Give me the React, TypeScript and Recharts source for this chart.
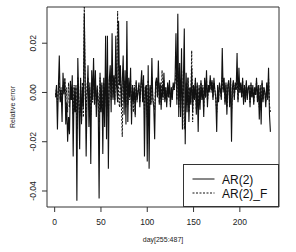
import { LineChart, Line, XAxis, YAxis, ReferenceArea, Legend, Label } from "recharts"

// relative error per day, days 1..233 (day[255:487])
const ar2 = [
  -0.002, 0.003, -0.015, 0.002, 0.015, -0.004, 0.001, -0.012, 0.008, 0.0,
  0.005, -0.013, -0.004, -0.02, -0.01, -0.017, 0.004, -0.003, 0.007, -0.026,
  0.002, -0.008, 0.003, -0.044, 0.014, -0.003, -0.023, 0.006, -0.012, 0.002,
  -0.006, 0.032, 0.004, -0.026, -0.002, 0.011, -0.014, 0.004, -0.029, 0.009,
  -0.003, 0.014, -0.005, 0.009, -0.01, 0.002, -0.004, -0.043, 0.008, -0.008,
  0.004, -0.025, 0.006, -0.014, 0.023, -0.019, 0.023, -0.031, 0.005, 0.011,
  -0.008, 0.024, -0.003, 0.007, -0.005, 0.023, 0.002, -0.004, 0.029, 0.003,
  0.011, -0.006, 0.004, 0.015, -0.009, 0.009, -0.013, 0.029, -0.012, 0.006,
  -0.002, 0.01, -0.013, 0.003, -0.004, 0.002, -0.009, 0.005, -0.003, 0.0,
  0.004, -0.006, 0.003, 0.009, -0.004, 0.007, -0.026, 0.002, 0.003, -0.028,
  0.011, -0.031, 0.003, -0.005, 0.014, -0.003, -0.006, -0.019, 0.004, 0.006,
  -0.002, 0.013, -0.005, 0.004, -0.007, 0.003, -0.002, 0.008, -0.004, 0.002,
  -0.006, 0.004, -0.002, 0.005, -0.006, 0.002, -0.003, 0.004, 0.001, 0.005,
  0.024, -0.005, 0.032, -0.01, 0.012, -0.01, 0.018, -0.015, 0.004, 0.026,
  -0.021, 0.008, -0.008, 0.006, -0.012, 0.002, -0.005, 0.01, -0.008, 0.003,
  -0.003, 0.006, -0.009, 0.004, -0.016, 0.003, -0.007, 0.005, -0.003, 0.002,
  -0.01, 0.006, -0.002, 0.009, -0.006, 0.003, 0.0, 0.007, 0.001, 0.005,
  -0.003, 0.006, 0.001, -0.002, -0.016, 0.003, -0.004, 0.004, 0.001, -0.003,
  0.018, 0.0, 0.006, -0.005, 0.004, -0.009, 0.003, 0.005, -0.006, 0.006,
  -0.02, 0.002, 0.005, -0.003, 0.004, 0.001, 0.016, -0.004, 0.01, 0.0,
  0.004, -0.002, 0.006, -0.005, 0.003, -0.004, 0.005, -0.003, 0.002, 0.003,
  -0.006, 0.004, -0.002, 0.003, -0.005, 0.002, -0.001, 0.006, -0.004, 0.003,
  -0.011, 0.003, -0.013, 0.005, -0.004, 0.002, 0.0, -0.006, 0.004, -0.003,
  0.01, -0.009, -0.016,
]

const ar2F = [
  -0.001, 0.002, -0.004, 0.001, 0.004, -0.003, 0.002, -0.005, 0.003, -0.001,
  0.006, -0.005, 0.002, -0.008, 0.004, -0.006, 0.005, -0.003, 0.002, -0.009,
  0.003, -0.005, 0.002, -0.015, 0.006, -0.004, -0.01, 0.005, -0.013, 0.004,
  -0.01, 0.036, -0.002, -0.008, 0.003, 0.006, -0.007, 0.002, -0.009, 0.005,
  -0.004, 0.007, -0.003, 0.005, -0.006, 0.003, -0.002, -0.012, 0.006, -0.005,
  0.003, -0.008, 0.004, -0.006, 0.008, -0.007, 0.009, -0.01, 0.004, 0.006,
  -0.003, 0.01, -0.002, 0.006, -0.003, 0.012, 0.002, 0.033, -0.002, -0.006,
  0.008, -0.004, -0.018, 0.007, -0.004, 0.005, -0.006, 0.008, -0.005, 0.003,
  -0.003, 0.005, -0.009, 0.002, -0.008, 0.003, -0.01, 0.004, -0.004, 0.001,
  0.003, -0.004, 0.002, 0.005, -0.003, 0.004, -0.008, 0.002, 0.003, -0.01,
  0.005, -0.008, 0.002, -0.004, 0.006, -0.002, -0.004, -0.007, 0.003, 0.005,
  -0.002, 0.006, -0.004, 0.003, -0.005, 0.009, -0.003, 0.005, -0.003, 0.002,
  -0.004, 0.003, -0.002, 0.004, -0.005, 0.002, -0.002, 0.003, 0.001, 0.004,
  0.008, -0.003, 0.01, -0.006, 0.004, -0.005, 0.007, -0.008, 0.009, -0.015,
  -0.006, 0.004, -0.005, 0.006, -0.008, 0.002, -0.004, 0.017, -0.012, 0.003,
  -0.002, 0.005, -0.007, 0.003, -0.006, 0.002, -0.004, 0.004, -0.002, 0.003,
  -0.006, 0.005, -0.002, 0.006, -0.004, 0.002, 0.001, 0.005, 0.0, 0.004,
  -0.002, 0.004, 0.001, -0.003, -0.008, 0.002, -0.003, 0.003, 0.001, -0.002,
  0.006, 0.001, 0.004, -0.004, 0.003, -0.006, 0.002, 0.004, -0.004, 0.005,
  -0.008, 0.002, 0.004, -0.002, 0.003, 0.001, 0.007, -0.003, 0.005, 0.0,
  0.003, -0.002, 0.005, -0.004, 0.002, -0.003, 0.004, -0.002, 0.002, 0.002,
  -0.004, 0.003, -0.002, 0.002, -0.004, 0.002, -0.001, 0.005, -0.003, 0.002,
  -0.006, 0.002, -0.007, 0.004, -0.003, 0.002, 0.0, -0.004, 0.003, -0.002,
  0.006, -0.005, -0.008,
]

const xTicks = [0, 50, 100, 150, 200]
const yTicks = [-0.04, -0.02, 0.0, 0.02]
const seriesNames = ["AR(2)", "AR(2)_F"]

const data = ar2.map((v, i) => ({ day: i + 1, ar2: v, ar2F: ar2F[i] }))

const FONT = "'Liberation Sans', Arial, sans-serif"
const X_DOMAIN: [number, number] = [-8.28, 242.28]
const Y_DOMAIN: [number, number] = [-0.0465, 0.0347]

const YTick = ({ x, y, payload }: any) => (
  <text
    transform={`translate(${x},${y}) rotate(-90)`}
    textAnchor="middle"
    fontSize={8.5}
    fontFamily={FONT}
    fill="#222"
  >
    {Number(payload.value).toFixed(2)}
  </text>
)

const LegendBox = () => (
  <svg width={96} height={43} style={{ display: "block" }}>
    <rect x={0.5} y={0.5} width={95} height={42} fill="#fff" stroke="#333" />
    <line x1={9.5} x2={31.5} y1={15} y2={15} stroke="#111" />
    <line x1={9.5} x2={31.5} y1={29} y2={29} stroke="#111" strokeDasharray="2 1.5" />
    <text x={39} y={19.5} fontSize={12} fontFamily={FONT} fill="#111">{seriesNames[0]}</text>
    <text x={39} y={33.5} fontSize={12} fontFamily={FONT} fill="#111">{seriesNames[1]}</text>
  </svg>
)

export default function App() {
  return (
    <div>
      <style>{`body{margin:0;background:#fff}`}</style>
      <LineChart width={296} height={252} data={data} margin={{ top: 7, right: 17, left: 0, bottom: 0 }}>
        <XAxis
          dataKey="day"
          type="number"
          domain={X_DOMAIN}
          ticks={xTicks}
          allowDataOverflow
          height={45}
          axisLine={false}
          tickSize={5}
          tickMargin={7}
          tickLine={{ stroke: "#333" }}
          tick={{ fontSize: 8.5, fontFamily: FONT, fill: "#222" }}
          interval={0}
        >
          <Label value="day[255:487]" position="insideBottom" offset={10} fontSize={7} fontFamily={FONT} fill="#222" />
        </XAxis>
        <YAxis
          type="number"
          domain={Y_DOMAIN}
          ticks={yTicks}
          allowDataOverflow
          width={47}
          axisLine={false}
          tickSize={5}
          tickMargin={6}
          tickLine={{ stroke: "#333" }}
          tick={<YTick />}
          interval={0}
        >
          <Label
            value="Relative error"
            angle={-90}
            position="insideLeft"
            offset={13}
            fontSize={7}
            fontFamily={FONT}
            fill="#222"
            style={{ textAnchor: "middle" }}
          />
        </YAxis>
        <ReferenceArea x1={X_DOMAIN[0]} x2={X_DOMAIN[1]} y1={Y_DOMAIN[0]} y2={Y_DOMAIN[1]} fill="none" stroke="#333" strokeWidth={1} />
        <Line type="linear" dataKey="ar2" name={seriesNames[0]} stroke="#111" strokeWidth={1.1} dot={false} isAnimationActive={false} />
        <Line type="linear" dataKey="ar2F" name={seriesNames[1]} stroke="#111" strokeWidth={1} strokeDasharray="2 1.5" dot={false} isAnimationActive={false} />
        <Legend
          layout="vertical"
          align="center"
          verticalAlign="middle"
          content={<LegendBox />}
          wrapperStyle={{ position: "absolute", left: 183, top: 164, width: 96, height: 43 }}
        />
      </LineChart>
    </div>
  )
}
